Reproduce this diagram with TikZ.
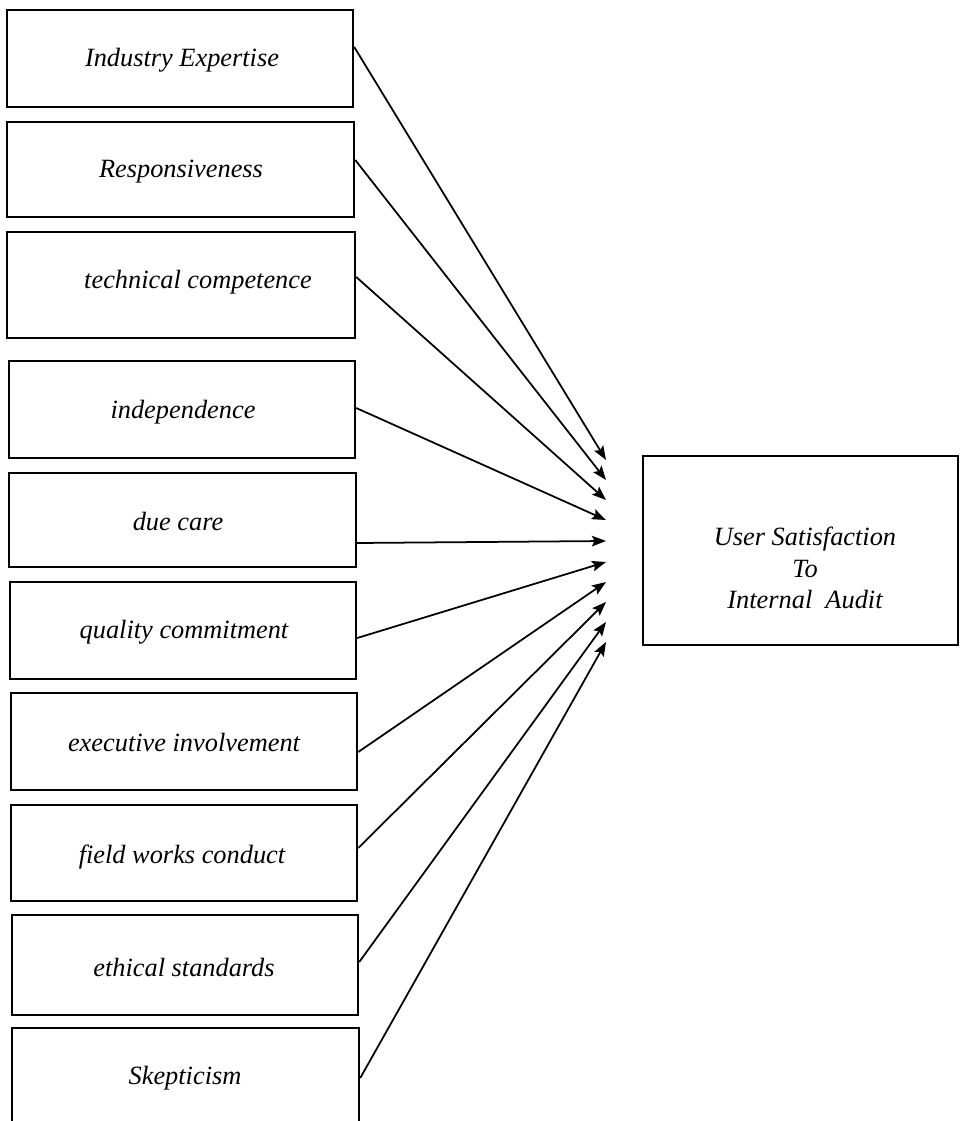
\documentclass[tikz,border=0pt]{standalone}
\usepackage{fontspec}
\setmainfont{Liberation Serif}
\usetikzlibrary{arrows.meta, positioning}

\begin{document}
\begin{tikzpicture}[x=0.02cm, y=-0.02cm,
        box/.style={draw, line width=1.4pt, inner sep=0pt},
        lbl/.style={font=\fontsize{15}{18}\selectfont\itshape, inner sep=0pt},
        link/.style={line width=1pt, -{Stealth[length=8pt, width=6pt, inset=1.5pt]}}]
        \useasboundingbox (0,0) rectangle (960,1121);
        % Caja de la derecha
        \node[box, minimum width=6.3cm, minimum height=3.78cm] (us) at (800.5,550.5) {};
        \node[lbl, align=center] (ust) at (805,568) {User Satisfaction\\To\\Internal\ \ Audit};
        % Cajas de la izquierda y flechas
        \foreach \n/\l/\t/\r/\b/\tx/\ty/\sy/\ey/\txt in {
            1/7/10/353/107/182/60/47/460/Industry Expertise,
            2/7/122/354/217/181/172/160/480/Responsiveness,
            3/7/232/355/338/198/282/277/500/technical competence,
            4/9/361/355/458/183/412/408/520/independence,
            5/9/473/356/567/178/522/543/541/due care,
            6/10/582/356/679/184/632/638/562/quality commitment,
            7/11/693/357/790/184/743/752/582/executive involvement,
            8/11/805/357/901/182/857/848/602/field works conduct,
            9/12/915/358/1015/184/967/962/622/ethical standards,
            10/12/1028/359/1135/185/1078/1078/642/Skepticism} {
            \pgfmathsetmacro{\bw}{(\r-\l)*0.02}
            \pgfmathsetmacro{\bh}{(\b-\t)*0.02}
            \pgfmathsetmacro{\dy}{(\sy-(\t+\b)/2)*(-0.02)}
            \node[box, minimum width=\bw cm, minimum height=\bh cm] (b\n) at ({(\l+\r)/2},{(\t+\b)/2}) {};
            \node[lbl] (t\n) at (\tx,\ty) {\txt};
            \coordinate (e\n) at (606,\ey);
            \draw[link] ([yshift=\dy cm]b\n.east) -- (e\n);
        }
\end{tikzpicture}
\end{document}
